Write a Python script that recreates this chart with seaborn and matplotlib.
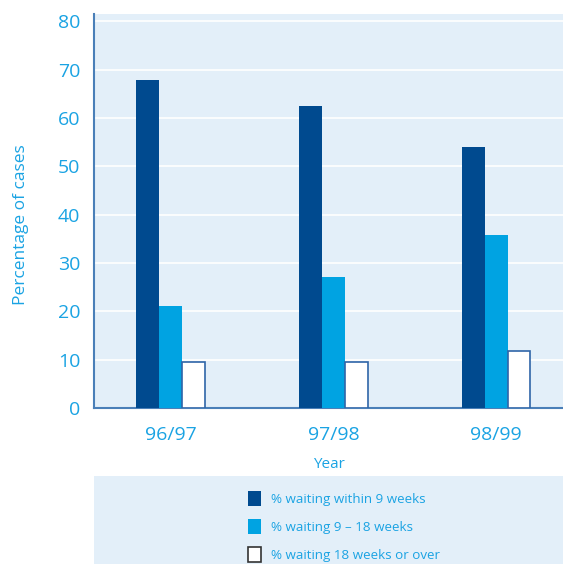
import matplotlib
matplotlib.use("Agg")
import matplotlib.pyplot as plt
import pandas as pd
import seaborn as sns

years = ["96/97", "97/98", "98/99"]
series = ["% waiting within 9 weeks", "% waiting 9 \u2013 18 weeks", "% waiting 18 weeks or over"]
within_9 = [67.8, 62.4, 54.0]
from_9_to_18 = [21.0, 27.1, 35.8]
over_18 = [9.5, 9.5, 11.7]

df = pd.DataFrame({
    "year": years * 3,
    "series": [s for s in series for _ in years],
    "value": within_9 + from_9_to_18 + over_18,
})

bg = "#e3eff9"
txt = "#1aa3e3"
colors = ["#004a8f", "#00a3e2", "#ffffff"]

sns.set_theme(style="white")
plt.rcParams["font.family"] = ["Open Sans", "DejaVu Sans"]

fig = plt.figure(figsize=(5.63, 5.64), dpi=100)
ax = fig.add_axes([94 / 563, 156 / 564, 1 - 94 / 563, (408 - 14) / 564])
ax.set_facecolor(bg)

sns.barplot(data=df, x="year", y="value", hue="series", hue_order=series,
            palette=colors, width=0.42, saturation=1, linewidth=0,
            ax=ax, zorder=3)

for bar in ax.containers[2]:
    bar.set_edgecolor("#2f65a8")
    bar.set_linewidth(1.2)

ax.set_ylim(0, 81.5)
ax.set_xlim(-0.47, 2.41)
ax.set_yticks(range(0, 81, 10))
ax.yaxis.grid(True, color="white", linewidth=1.2, zorder=0)
ax.set_axisbelow(True)

ax.tick_params(axis="y", labelsize=14, labelcolor=txt, length=0, pad=10)
ax.tick_params(axis="x", labelsize=14, labelcolor=txt, length=0, pad=13)
ax.set_xlabel("Year", color=txt, fontsize=11, labelpad=9)
ax.set_ylabel("Percentage of cases", color=txt, fontsize=12.5)
ax.yaxis.set_label_coords(-0.138, 0.465)

for side in ["top", "right"]:
    ax.spines[side].set_visible(False)
ax.spines["left"].set_color("#4a7fb8")
ax.spines["left"].set_linewidth(1.5)
ax.spines["bottom"].set_color("#4a7fb8")
ax.spines["bottom"].set_linewidth(1.5)

handles, labels = ax.get_legend_handles_labels()
handles[2].set_edgecolor("#333333")
handles[2].set_linewidth(1.2)
ax.get_legend().remove()

lax = fig.add_axes([94 / 563, 0, 1 - 94 / 563, 88 / 564])
lax.set_facecolor(bg)
lax.set_xticks([])
lax.set_yticks([])
for s in lax.spines.values():
    s.set_visible(False)

leg = lax.legend(handles, labels, loc="upper left",
                 bbox_to_anchor=(236 / 563, 1 - 479 / 564),
                 bbox_transform=fig.transFigure, frameon=False,
                 handlelength=1.0, handleheight=1.3, handletextpad=0.75,
                 labelspacing=1.0, fontsize=9.6)
for t in leg.get_texts():
    t.set_color(txt)

fig.savefig("out.png", dpi=100)
